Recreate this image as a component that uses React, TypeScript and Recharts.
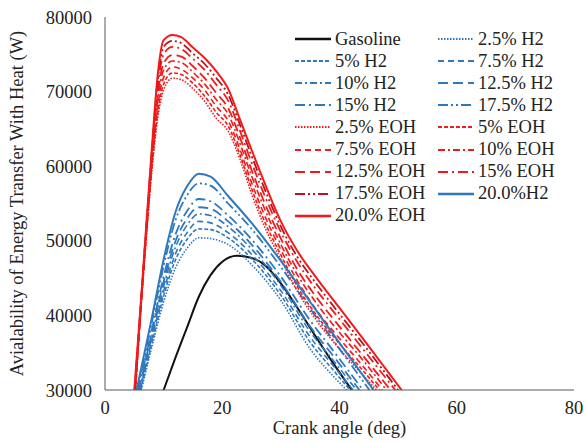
import { LineChart, Line, XAxis, YAxis } from "recharts";

// crank angle grid + values (W)
const GAS_ANGLE = [10, 12, 14, 16, 18, 20, 22.5, 25, 27, 30, 33, 36, 39, 42.1];
const GAS_VALUE = [30000, 34300, 38400, 42500, 45400, 47200, 48000, 47700, 46900, 44300, 40800, 37100, 33500, 30000];

const H2_MID_ANGLE = [8, 10, 12, 14, 16, 18, 21, 25, 30, 35, 39];
const H2_START = [6.2, 6.1, 6.0, 5.9, 5.8, 5.7, 5.5, 5.4];
const H2_END = [41.2, 41.8, 42.3, 42.9, 43.4, 44.0, 45.1, 45.8];
const H2_2_5 = [35800, 41800, 46300, 49000, 50400, 50300, 49500, 46800, 42000, 35500, 31800];
const H2_5 = [36300, 42600, 47400, 50200, 51600, 51500, 50400, 47600, 42700, 36400, 32600];
const H2_7_5 = [36800, 43200, 48200, 51100, 52600, 52400, 51100, 48200, 43300, 37100, 33200];
const H2_10 = [37200, 43900, 49100, 52100, 53600, 53400, 51900, 48900, 44000, 37800, 33900];
const H2_12_5 = [37700, 44500, 49900, 53000, 54500, 54300, 52600, 49500, 44500, 38500, 34500];
const H2_15 = [38100, 45200, 50800, 54000, 55600, 55300, 53400, 50200, 45200, 39300, 35200];
const H2_17_5 = [39100, 46600, 52700, 56100, 57700, 57400, 55000, 51600, 46500, 40900, 36600];
const H2_20 = [39700, 47500, 53800, 57300, 59000, 58600, 56000, 52400, 47300, 41800, 37400];

const EOH_MID_ANGLE = [6, 7, 8, 9, 10, 11.5, 13, 15, 17, 19, 21, 23, 25, 27, 30, 33, 36, 40, 44];
const EOH_START = [5.2, 5.2, 5.15, 5.15, 5.1, 5.1, 5.05, 5.0];
const EOH_END = [46.3, 46.8, 47.3, 48.0, 48.7, 49.5, 50.0, 50.6];
const EOH_2_5 = [39500, 50000, 59500, 66500, 70200, 71800, 71600, 70400, 68700, 66400, 64700, 61000, 56300, 52300, 47500, 43000, 39400, 35500, 32000];
const EOH_5 = [39600, 50200, 59900, 67200, 71000, 72500, 72300, 71100, 69400, 67200, 65400, 61600, 57000, 53000, 48100, 43600, 40100, 36200, 32600];
const EOH_7_5 = [39800, 50400, 60300, 68000, 71900, 73300, 73000, 71800, 70200, 68000, 66100, 62300, 57800, 53800, 48800, 44400, 40800, 36900, 33200];
const EOH_10 = [39900, 50600, 60700, 68800, 72900, 74100, 73900, 72600, 71000, 68900, 67000, 63100, 58700, 54700, 49500, 45200, 41700, 37700, 34000];
const EOH_12_5 = [40000, 50900, 61100, 69600, 73800, 74900, 74700, 73400, 71800, 69800, 67800, 63900, 59500, 55500, 50300, 45900, 42500, 38500, 34600];
const EOH_15 = [40200, 51200, 61700, 70700, 75000, 76000, 75700, 74400, 72900, 70900, 68800, 64800, 60500, 56500, 51200, 46900, 43500, 39500, 35500];
const EOH_17_5 = [40400, 51400, 62100, 71500, 76000, 76800, 76500, 75100, 73700, 71800, 69600, 65600, 61400, 57400, 51900, 47600, 44300, 40200, 36200];
const EOH_20 = [40500, 51600, 62500, 72300, 76900, 77600, 77300, 75900, 74500, 72700, 70400, 66300, 62200, 58200, 52600, 48400, 45100, 41000, 36900];

const BASE = 30000;
const X_TICKS = [0, 20, 40, 60, 80];
const Y_TICKS = [30000, 40000, 50000, 60000, 70000, 80000];

const BLUE = "#2e78be";
const RED = "#f21a1a";
const DARK_RED = "#b8141c";
const FONT = "'Liberation Serif', 'Times New Roman', Times, serif";
const FS = 18.5;

const DOT = "1.5 1.5";
const SHORT = "4 2";
const DASH = "6 4";
const DASH_DOT = "7 3 2 3";
const LONG = "10 5";
const LONG_DOT = "10 4 2 4";
const LONG_DOT_DOT = "10 3 2 3 2 3";

type Pt = { angle: number; value: number };
type Series = { name: string; color: string; dash?: string; width: number; data: Pt[] };

const toPts = (angles: number[], values: number[]): Pt[] =>
  angles.map((a, i) => ({ angle: a, value: values[i] }));

const h2 = (i: number, vals: number[]) =>
  toPts([H2_START[i], ...H2_MID_ANGLE, H2_END[i]], [BASE, ...vals, BASE]);
const eoh = (i: number, vals: number[]) =>
  toPts([EOH_START[i], ...EOH_MID_ANGLE, EOH_END[i]], [BASE, ...vals, BASE]);

// legend order (row-major, two columns)
const SERIES: Series[] = [
  { name: "Gasoline", color: "#111", width: 2, data: toPts(GAS_ANGLE, GAS_VALUE) },
  { name: "2.5% H2", color: BLUE, dash: DOT, width: 1.6, data: h2(0, H2_2_5) },
  { name: "5% H2", color: BLUE, dash: SHORT, width: 1.6, data: h2(1, H2_5) },
  { name: "7.5% H2", color: BLUE, dash: DASH, width: 1.6, data: h2(2, H2_7_5) },
  { name: "10% H2", color: BLUE, dash: DASH_DOT, width: 1.6, data: h2(3, H2_10) },
  { name: "12.5% H2", color: BLUE, dash: LONG, width: 1.8, data: h2(4, H2_12_5) },
  { name: "15% H2", color: BLUE, dash: LONG_DOT, width: 1.8, data: h2(5, H2_15) },
  { name: "17.5% H2", color: BLUE, dash: LONG_DOT_DOT, width: 1.8, data: h2(6, H2_17_5) },
  { name: "2.5% EOH", color: RED, dash: DOT, width: 1.6, data: eoh(0, EOH_2_5) },
  { name: "5% EOH", color: RED, dash: SHORT, width: 1.6, data: eoh(1, EOH_5) },
  { name: "7.5% EOH", color: RED, dash: DASH, width: 1.6, data: eoh(2, EOH_7_5) },
  { name: "10% EOH", color: RED, dash: DASH_DOT, width: 1.6, data: eoh(3, EOH_10) },
  { name: "12.5% EOH", color: RED, dash: LONG, width: 1.8, data: eoh(4, EOH_12_5) },
  { name: "15% EOH", color: RED, dash: LONG_DOT, width: 1.8, data: eoh(5, EOH_15) },
  { name: "17.5% EOH", color: DARK_RED, dash: LONG_DOT_DOT, width: 1.8, data: eoh(6, EOH_17_5) },
  { name: "20.0%H2", color: BLUE, width: 2, data: h2(7, H2_20) },
  { name: "20.0% EOH", color: RED, width: 2, data: eoh(7, EOH_20) },
];

function YTitle(props: any) {
  const vb = props.viewBox || { x: 0, y: 0, height: 0 };
  const cx = 17;
  const cy = vb.y + vb.height / 2;
  return (
    <text
      x={cx}
      y={cy}
      transform={`rotate(-90 ${cx} ${cy})`}
      textAnchor="middle"
      dominantBaseline="central"
      fontFamily={FONT}
      fontSize={FS}
      fill="#222"
    >
      Avialability of Energy Transfer With Heat (W)
    </text>
  );
}

function ChartLegend() {
  return (
    <div style={{ position: "absolute", left: 294, top: 28, width: 290, fontFamily: FONT, fontSize: FS, color: "#222" }}>
      {SERIES.map((s, i) => (
        <div
          key={s.name}
          style={{
            position: "absolute",
            left: (i % 2) * 143,
            top: Math.floor(i / 2) * 22.1,
            height: 22,
            display: "flex",
            alignItems: "center",
            whiteSpace: "nowrap",
          }}
        >
          <svg width={38} height={10} style={{ marginRight: 3 }}>
            <line x1={1} y1={5} x2={37} y2={5} stroke={s.color} strokeWidth={s.width + 0.4} strokeDasharray={s.dash} />
          </svg>
          <span>{s.name}</span>
        </div>
      ))}
    </div>
  );
}

export default function App() {
  return (
    <div style={{ position: "absolute", left: 0, top: 0, width: 586, height: 443, background: "#fff" }}>
      <LineChart width={586} height={443} margin={{ top: 17, right: 12, left: 0, bottom: 0 }}>
        <XAxis
          dataKey="angle"
          type="number"
          domain={[0, 80]}
          ticks={X_TICKS}
          allowDataOverflow
          height={53}
          tickLine={false}
          tickSize={6}
          tickMargin={5}
          stroke="#595959"
          tick={{ fill: "#222", fontFamily: FONT, fontSize: FS }}
          label={{
            value: "Crank angle (deg)",
            position: "insideBottom",
            offset: 9,
            fill: "#222",
            fontFamily: FONT,
            fontSize: FS,
          }}
        />
        <YAxis
          type="number"
          domain={[30000, 80000]}
          ticks={Y_TICKS}
          allowDataOverflow
          width={105}
          tickLine={false}
          tickSize={6}
          tickMargin={7}
          stroke="#595959"
          tick={{ fill: "#222", fontFamily: FONT, fontSize: FS }}
          label={{ content: (p: any) => <YTitle {...p} /> }}
        />
        {SERIES.map((s) => (
          <Line
            key={s.name}
            data={s.data}
            dataKey="value"
            name={s.name}
            type="monotone"
            stroke={s.color}
            strokeWidth={s.width}
            strokeDasharray={s.dash}
            dot={false}
            activeDot={false}
            isAnimationActive={false}
          />
        ))}
      </LineChart>
      <ChartLegend />
    </div>
  );
}
